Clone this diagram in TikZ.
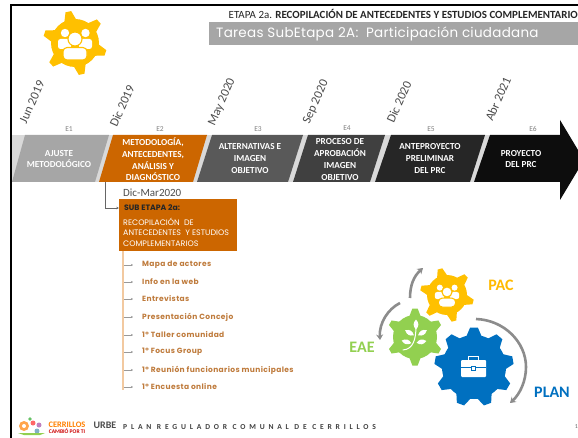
\documentclass[tikz,border=0pt]{standalone}
\usepackage{fontspec}
\setmainfont{Carlito}
\newfontfamily\gothic{Poppins}
\newfontfamily\gothicsp[LetterSpace=2]{Poppins}
\newfontfamily\gothicit[LetterSpace=5]{Poppins}
\newfontfamily\wide[LetterSpace=50]{Carlito}
\usetikzlibrary{arrows.meta,calc}
\definecolor{orangeE}{HTML}{CC6600}
\definecolor{itemc}{HTML}{BF7B3C}
\definecolor{lineo}{HTML}{F2C9A0}
\definecolor{pacc}{HTML}{FFC000}
\definecolor{eaec}{HTML}{92D050}
\definecolor{planc}{HTML}{0070C0}
\definecolor{sep}{HTML}{D9D9D9}
\newcommand{\mygear}[7]{% x,y,rbody,router,n,offset,color
  \fill[#7] (#1,#2) circle (#3);
  \foreach \ang in {1,...,#5}{
    \fill[#7,shift={(#1,#2)},rotate=#6-(\ang-1)*360/#5]
      (#3-2,-0.2*#3-1.5) -- (#4,-0.12*#3) -- (#4,0.12*#3) -- (#3-2,0.2*#3+1.5) -- cycle;
  }
}
\newcommand{\mypeople}[4]{% x,y,scale,bg
  \begin{scope}[shift={(#1,#2)},scale=#3]
    \fill[white] (-10,-13) circle (4.2);
    \fill[white] (10.5,-13) circle (4.2);
    \fill[white,rounded corners=2.5] (-17,-7) rectangle (-4,3);
    \fill[white,rounded corners=2.5] (4,-7) rectangle (17,3);
    \fill[white,draw=#4,line width=1.1] (0,-7) circle (7);
    \fill[white,draw=#4,line width=1.1,rounded corners=4] (-12,1.5) rectangle (12,14);
  \end{scope}
}
\tikzset{
  frameline/.style={black,line width=2pt},
  date/.style={rotate=66,font=\fontsize{12.5}{14}\selectfont,text=black!70,inner sep=0pt},
  elabel/.style={font=\fontsize{7.5}{8}\selectfont,text=black!50,inner sep=0pt},
  stagetxt/.style={align=center,font=\fontsize{9.2}{11.7}\bfseries\selectfont,text=white,inner sep=0pt},
  item/.style={anchor=west,font=\gothicit\fontsize{7.5}{9}\bfseries\selectfont,text=itemc,inner sep=0pt},
  itemarrow/.style={-{Stealth[length=2pt,width=2pt]},black!40,line width=0.4pt},
  cyc/.style={-{Stealth[length=5.5pt,width=7pt]},black!45,line width=2.6pt},
}
\begin{document}
\begin{tikzpicture}[x=1pt,y=-1pt]
\useasboundingbox (0,0) rectangle (578,438);
\clip (0,0) rectangle (578,438);
\fill[white] (0,0) rectangle (578,438);
% frame
\coordinate (fa) at (11,438); \coordinate (fb) at (11,5); \coordinate (fc) at (578,5);
\draw[frameline,line cap=butt] (fa) -- (fb) -- (fc);
% titles
\node[anchor=east,inner sep=0pt,font=\fontsize{10.95}{12}\selectfont,text=black!85] (title) at (578,14) {ETAPA 2a. \textbf{RECOPILACIÓN DE ANTECEDENTES Y ESTUDIOS COMPLEMENTARIO}};
\fill[black!35] (209,22) rectangle (578,45);
\node[anchor=west,inner sep=0pt,font=\gothicsp\fontsize{13.5}{15}\selectfont,text=white] (sub) at (216,34) {Tareas SubEtapa 2A:\ \ Participación ciudadana};
% top gear
\mygear{75}{43}{24}{32}{6}{102}{pacc}
\mypeople{75}{46}{1}{pacc}
% banner
\fill[sep] (12,135) rectangle (560,182);
\fill[black!95] (560,120) -- (584,160) -- (560,200) -- cycle;
\fill[black!35] (25,135) -- (109,135) -- (95,182) -- (12,182) -- cycle;
\fill[orangeE] (113,135) -- (207,135) -- (193,182) -- (99,182) -- cycle;
\fill[black!65] (212,135) -- (303,135) -- (288,182) -- (197,182) -- cycle;
\fill[black!75] (308,135) -- (385,135) -- (370,182) -- (293,182) -- cycle;
\fill[black!85] (391,135) -- (485,135) -- (470,182) -- (375,182) -- cycle;
\fill[black!95] (490,135) -- (561,135) -- (561,182) -- (474,182) -- cycle;
% dates
\node[date] (d1) at (32,102) {Jun 2019};
\node[date] (d2) at (122,106) {Dic 2019};
\node[date] (d3) at (222,102) {May 2020};
\node[date] (d4) at (316,102) {Sep 2020};
\node[date] (d5) at (399,102) {Dic 2020};
\node[date] (d6) at (498,99) {Abr 2021};
% E labels
\node[elabel] (l1) at (69,129) {E1};
\node[elabel] (l2) at (160,129) {E2};
\node[elabel] (l3) at (258,129) {E3};
\node[elabel] (l4) at (347,128) {E4};
\node[elabel] (l5) at (431,129) {E5};
\node[elabel] (l6) at (533,129) {E6};
% stage texts
\node[stagetxt] (s1) at (59,159) {AJUSTE\\METODOLÓGICO};
\node[stagetxt] (s2) at (153,159.5) {METODOLOGÍA,\\ANTECEDENTES,\\ANÁLISIS Y\\DIAGNÓSTICO};
\node[stagetxt] (s3) at (250,158.5) {ALTERNATIVAS E\\IMAGEN\\OBJETIVO};
\node[stagetxt] (s4) at (340,159.5) {PROCESO DE\\APROBACIÓN\\IMAGEN\\OBJETIVO};
\node[stagetxt] (s5) at (430,158.5) {ANTEPROYECTO\\PRELIMINAR\\DEL PRC};
\node[stagetxt] (s6) at (521,159) {PROYECTO\\DEL PRC};
% sub stage
\node[anchor=west,inner sep=0pt,font=\fontsize{11}{12}\selectfont,text=black!70] (dm) at (123,193) {Dic-Mar2020};
\node[fill=orangeE,minimum width=118pt,minimum height=52pt,inner sep=0pt] (subbox) at (178,225) {};
\node[anchor=west,inner sep=0pt,font=\gothic\fontsize{7.8}{9}\bfseries\selectfont,text=black!85] (subt) at (124,208) {SUB ETAPA 2a:};
\node[anchor=north west,inner sep=0pt,align=left,font=\gothic\fontsize{7.95}{10.7}\selectfont,text=white] (subb) at (123,217.5) {RECOPILACIÓN\ \ DE\\ANTECEDENTES\ \ Y ESTUDIOS\\COMPLEMENTARIOS};
\coordinate (e2foot) at (105.5,182);
\draw[-{Stealth[length=2.5pt,width=2.5pt]},black!60,line width=0.6pt] (e2foot) |- (subbox.west |- 0,208);
% item list
\coordinate (stem) at (123,251); \coordinate (stemend) at (123,390);
\draw[lineo,line width=1.5pt] (stem) -- (stemend);
\foreach \n/\yy/\txt in {1/265/Mapa de actores,2/282/Info en la web,3/299/Entrevistas,4/317/Presentación Concejo,5/335/1° Taller comunidad,6/352/1° Focus Group,7/370/1° Reunión funcionarios municipales,8/387/1° Encuesta online}{
  \node[item] (it\n) at (142,\yy) {\txt};
  \coordinate (st\n) at (124,\yy);
  \draw[itemarrow] (st\n) -- ++(9,0);
}
% gears
\mygear{474}{367}{32}{39.5}{9}{90}{planc}
\mygear{415}{337}{22}{28.5}{6}{90}{eaec}
\mygear{447}{295}{20}{27}{6}{105}{pacc}
\mypeople{447}{297}{0.72}{pacc}
% briefcase
\fill[white,rounded corners=1] (461,360) rectangle (486,377);
\draw[white,line width=1.2pt] (468.5,360) -- (468.5,356.5) -- (478.5,356.5) -- (478.5,360);
\draw[planc,line width=0.8pt] (461,367.5) -- (486,367.5);
\fill[white,draw=planc,line width=0.5pt] (471.5,366) rectangle (475.5,370);
% sprig
\draw[white,line width=1pt,line cap=round] (403,350) .. controls (413,349) and (416,340) .. (416,326);
\foreach \lx/\ly/\lr in {416/325/90,410/333/150,422/333/30,407/342/165,421/342/10}{
  \fill[white,shift={(\lx,\ly)},rotate=\lr] (-4.5,0) .. controls (-1,-3.2) and (2,-3.2) .. (5.5,0) .. controls (2,3.2) and (-1,3.2) .. (-4.5,0) -- cycle;
}
% cycle arrows
\coordinate (a1) at (476,319); \coordinate (a2) at (526,367); \coordinate (a3) at (510,403);
\draw[cyc] (a1) .. controls (504,320) and (526,342) .. (a2) .. controls (526,381) and (520,394) .. (a3);
\coordinate (b1) at (410,298); \coordinate (b2) at (423,268);
\draw[cyc] (b1) .. controls (410,285) and (414,276) .. (b2);
\coordinate (c1) at (400,303); \coordinate (c2) at (380,340);
\draw[cyc] (c1) .. controls (388,309) and (379,323) .. (c2);
% labels
\node[font=\fontsize{16}{18}\bfseries\selectfont,text=pacc!90!orange] (pac) at (501,285) {PAC};
\node[font=\fontsize{16}{18}\bfseries\selectfont,text=eaec] (eae) at (362,347) {EAE};
\node[font=\fontsize{16}{18}\bfseries\selectfont,text=planc] (plan) at (552,392) {PLAN};
% footer
\fill[orange!70] (24,426) circle (5);
\fill[white] (24,426) circle (2);
\fill[red!60] (33,423) circle (2.5);
\fill[green!60!black!60] (30,419) circle (1.8);
\fill[violet!50] (39,425) circle (2.5);
\fill[cyan!60!black!60] (37,431) circle (2.5);
\fill[eaec] (18,433) -- (45,433) -- (40,435) -- (24,435) -- cycle;
\node[inner sep=0pt,font=\fontsize{8.4}{9}\bfseries\selectfont,text=orange] (lg1) at (67,425) {CERRILLOS};
\node[inner sep=0pt,font=\fontsize{5.6}{6}\bfseries\selectfont,text=red!80!black] (lg2) at (67,431) {CAMBIÓ POR TI};
\node[inner sep=0pt,font=\fontsize{10}{10}\bfseries\selectfont,text=black!70] (lg3) at (105,425.5) {URBE};
\node[anchor=west,inner sep=0pt,font=\wide\fontsize{7.6}{9}\bfseries\selectfont,text=black!75] (foot) at (123,427) {PLAN REGULADOR COMUNAL DE CERRILLOS};
\node[anchor=east,inner sep=0pt,font=\fontsize{6}{7}\selectfont,text=black!60] (pg) at (578,427) {1};
\end{tikzpicture}
\end{document}
